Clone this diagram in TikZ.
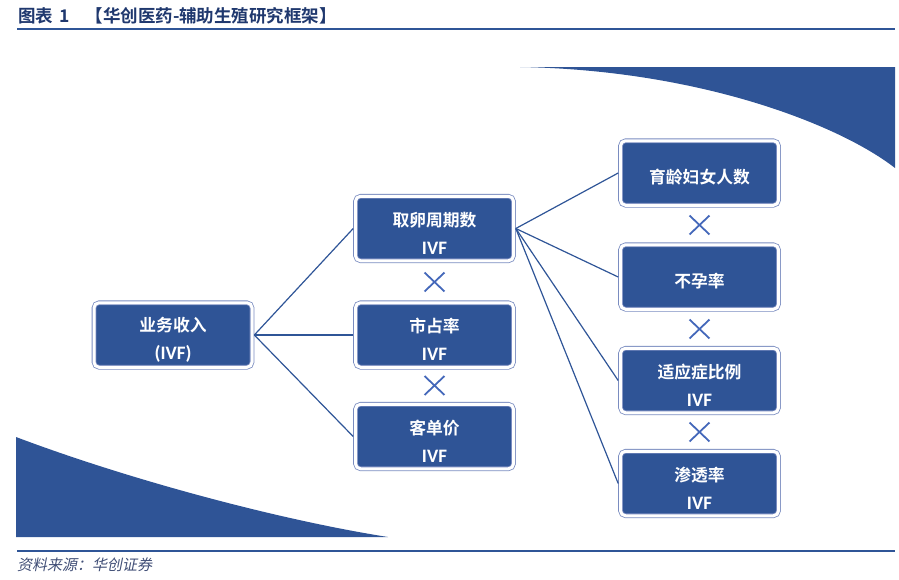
\documentclass[tikz,border=0pt]{standalone}
\usepackage{fontspec}
\setmainfont{Noto Sans CJK SC}[BoldFont={Noto Sans CJK SC Bold}]
\newfontfamily\ivffont{Carlito}
\newfontfamily\notefont{Noto Sans CJK SC}[FakeSlant=0.2]
\usepackage{tikz}
\usepackage{xcolor}
\usetikzlibrary{positioning, shapes.misc}

\definecolor{boxblue}{RGB}{47,84,150}
\definecolor{edgeblue}{RGB}{122,140,192}
\definecolor{lineblue}{RGB}{47,85,151}
\definecolor{crossblue}{RGB}{68,104,186}
\definecolor{titleblue}{RGB}{31,56,110}
\definecolor{noteblue}{RGB}{64,78,118}

\newcommand\ivftext[1]{{\ivffont\fontsize{19}{28}\selectfont #1}}
\newcommand\liftline{\rule{0pt}{23pt}}

\begin{document}
\begin{tikzpicture}[
            x=1pt, y=-1pt,
            box/.style={draw=edgeblue, line width=0.8pt, double=white, double distance=3pt,
                fill=boxblue, rounded corners=5pt, minimum width=158pt, minimum height=64.5pt,
                inner sep=0pt, outer sep=2.3pt, text=white, align=center,
                font=\bfseries\fontsize{16.8}{28}\selectfont},
            times/.style={cross out, draw=crossblue, line width=1.8pt,
                minimum width=18pt, minimum height=17pt, inner sep=0pt},
            link/.style={draw=lineblue, line width=1.2pt},
            deco/.style={fill=boxblue},
            rule/.style={draw=lineblue, line width=1.6pt},
        ]
            \useasboundingbox (0,0) rectangle (899,579);

            % title and rules
            \node[anchor=west, inner sep=0pt, text=titleblue, font=\bfseries\fontsize{17.5}{20}\selectfont]
                (title) at (18,16) {图表\hspace{6pt}1\hspace{16pt}【华创医药-辅助生殖研究框架】};
            \draw[rule] (17,29) -- (895,29);
            \draw[rule] (17,551) -- (895,551);
            \node[anchor=west, inner sep=0pt, text=noteblue, font=\notefont\fontsize{15}{17}\selectfont]
                (source) at (17,565) {资料来源：华创证券};

            % background shapes
            \fill[deco] (520,67) -- (895,67) -- (895,168) .. controls (840,125) and (700,70) .. (520,67);
            \fill[deco] (16,437) .. controls (130,480) and (280,520) .. (388,537) -- (16,537) -- cycle;

            % boxes
            \node[box] (income) at (173,335) {\liftline 业务收入\\\ivftext{(IVF)}};

            \node[box] (cycles) at (434.5,228.5) {\liftline 取卵周期数\\\ivftext{IVF}};
            \node[box] (share) at (434.5,335) {\liftline 市占率\\\ivftext{IVF}};
            \node[box] (price) at (434.5,436.5) {\liftline 客单价\\\ivftext{IVF}};

            \node[box] (women) at (699.5,173) {\liftline 育龄妇女人数};
            \node[box] (infert) at (699.5,277) {\liftline 不孕率};
            \node[box] (indic) at (699.5,380.5) {\liftline 适应症比例\\\ivftext{IVF}};
            \node[box] (penetr) at (699.5,483.5) {\liftline 渗透率\\\ivftext{IVF}};

            % multiplication signs
            \node[times] (x1) at (434.5,282) {};
            \node[times] (x2) at (434.5,385.5) {};
            \node[times] (x3) at (699.5,225) {};
            \node[times] (x4) at (699.5,329) {};
            \node[times] (x5) at (699.5,432) {};

            % connectors
            \draw[link] (income.east) -- (cycles.west);
            \draw[link] (income.east) -- (share.west);
            \draw[link] (income.east) -- (price.west);
            \draw[link] (cycles.east) -- (women.west);
            \draw[link] (cycles.east) -- (infert.west);
            \draw[link] (cycles.east) -- (indic.west);
            \draw[link] (cycles.east) -- (penetr.west);
        \end{tikzpicture}
\end{document}
